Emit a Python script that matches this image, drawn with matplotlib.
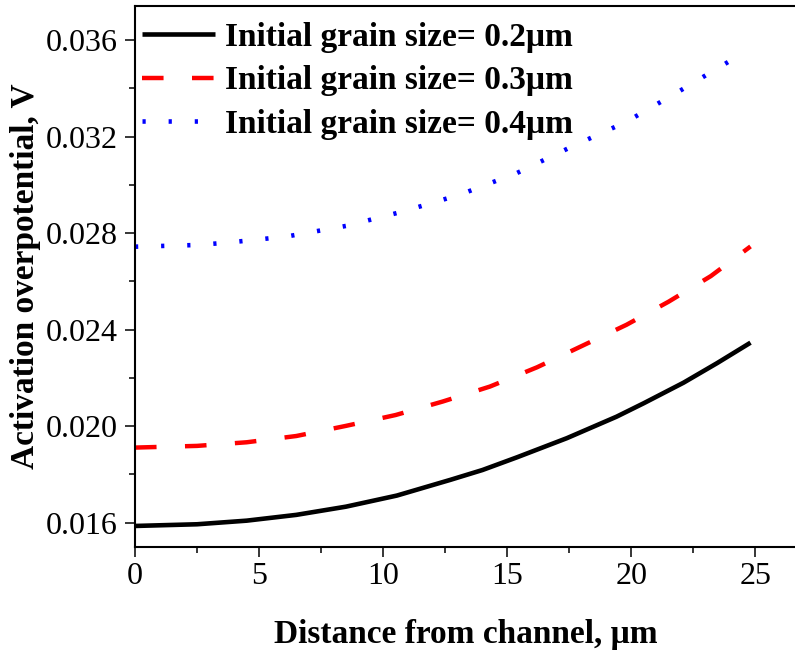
import matplotlib
matplotlib.use("Agg")
import matplotlib.pyplot as plt
from matplotlib.ticker import MultipleLocator, FormatStrFormatter

# Data
x_02 = [0.0, 2.5, 4.5, 6.5, 8.5, 10.55, 12.7, 14.0, 15.4, 17.4, 19.4, 20.5, 22.1, 23.45, 24.8]
y_02 = [0.01586, 0.01593, 0.01608, 0.01632, 0.01666, 0.01712, 0.01777, 0.01818, 0.01871,
        0.0195, 0.02039, 0.02095, 0.0218, 0.02261, 0.02346]

x_03 = [0.0, 2.5, 4.5, 6.5, 8.5, 10.5, 12.4, 14.3, 16.2, 18.0, 19.8, 21.5, 23.2, 24.8]
y_03 = [0.01911, 0.01918, 0.01933, 0.01959, 0.02001, 0.02046, 0.02102, 0.02164, 0.02244,
        0.02332, 0.0242, 0.02516, 0.02622, 0.02745]

x_04 = [0.0, 2.5, 3.75, 6.1, 8.5, 10.8, 13.1, 15.4, 17.6, 19.8, 21.9, 23.9, 24.1]
y_04 = [0.02744, 0.02751, 0.02761, 0.02786, 0.0283, 0.0289, 0.0296, 0.0305, 0.03159,
        0.03262, 0.03387, 0.0351, 0.03525]

labels = ["Initial grain size= 0.2\u03bcm",
          "Initial grain size= 0.3\u03bcm",
          "Initial grain size= 0.4\u03bcm"]

plt.rcParams['font.family'] = ['Liberation Serif', 'DejaVu Serif']

fig = plt.figure(figsize=(7.95, 6.57), dpi=100)
ax = fig.add_axes([135/795, 1 - 546.7/657, 0.832, (546.7 - 6)/657])

ax.plot(x_02, y_02, color='black', lw=3.3, solid_capstyle='butt', label=labels[0])
ax.plot(x_03, y_03, color='#ff0000', lw=3.2, dashes=(4.85, 6.4), label=labels[1])
ax.plot(x_04, y_04, color='#0000ff', lw=3.3, dashes=(0.7, 5.0), label=labels[2])

ax.set_xlim(0, 26.65)
ax.set_ylim(0.01500, 0.03742)
ax.xaxis.set_major_locator(MultipleLocator(5))
ax.xaxis.set_minor_locator(MultipleLocator(2.5))
ax.yaxis.set_major_locator(MultipleLocator(0.004))
ax.yaxis.set_minor_locator(MultipleLocator(0.002))
ax.yaxis.set_major_formatter(FormatStrFormatter('%.3f'))

for s in ax.spines.values():
    s.set_linewidth(1.5)
ax.tick_params(which='major', direction='out', length=7.2, width=1.1, labelsize=23)
ax.tick_params(axis='y', which='major', pad=5.5)
ax.tick_params(axis='x', which='major', pad=4)
ax.tick_params(which='minor', direction='out', length=4, width=1.1)
ax.tick_params(top=False, right=False)

ax.set_xlabel("Distance from channel, \u03bcm", fontsize=24, fontweight='bold', labelpad=20)
ax.set_ylabel("Activation overpotential, V", fontsize=24, fontweight='bold', labelpad=3)

leg = ax.legend(loc='upper left', frameon=False, prop={'size': 24, 'weight': 'bold'},
                handlelength=2.2, handletextpad=0.3, labelspacing=0.38,
                borderpad=0.0, borderaxespad=0.0, bbox_to_anchor=(0.0101, 0.971))

fig.savefig("out.png", dpi=100)
